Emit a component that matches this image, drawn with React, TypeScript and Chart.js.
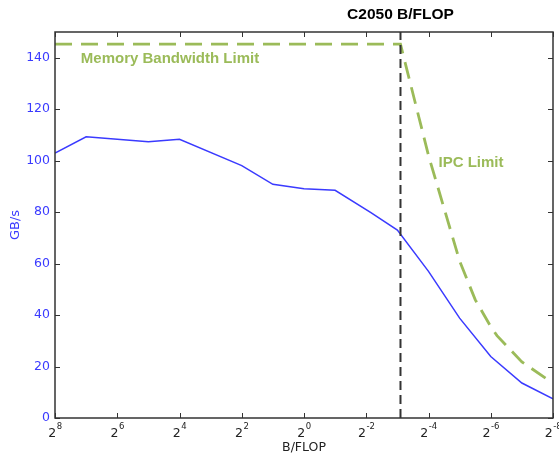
import React, { useEffect, useRef } from "react";
import { Chart, registerables } from "chart.js";

Chart.register(...registerables);

// x values are log2(B/FLOP)
const measuredLog2 = [8, 7, 5, 4, 2, 1, 0, -1, -2.15, -3, -4, -5, -6, -7, -8];
const measuredGBs = [102.9, 109.3, 107.4, 108.3, 98.1, 90.8, 89.1, 88.5, 79.8, 73.0, 57.0, 38.8, 23.9, 13.6, 7.4];
const limitLog2 = [8, -3.1, -4, -5, -5.5, -6, -6.2, -7, -8];
const limitGBs = [145.3, 145.3, 102, 61, 46, 35.5, 32, 21.8, 13.5];
const c2050Log2 = -3.1;
const xTickExps = [8, 6, 4, 2, 0, -2, -4, -6, -8];
const yTickVals = [0, 20, 40, 60, 80, 100, 120, 140];
const yMin = 0;
const yMax = 150;

const BLUE = "#3a3aff";
const GREEN = "#9bbb59";
const AXIS = "#333333";
const FONT = "'DejaVu Sans', sans-serif";
const BOLD = "'Liberation Sans', Arial, sans-serif";

export default function App() {
  const ref = useRef<HTMLCanvasElement | null>(null);

  useEffect(() => {
    if (!ref.current) return;

    const framePlugin = {
      id: "frame",
      afterDatasetsDraw(chart: any) {
        const { ctx, chartArea } = chart;
        const xs = chart.scales.x;
        const ys = chart.scales.y;
        const { left, right, top, bottom } = chartArea;
        ctx.save();
        ctx.strokeStyle = AXIS;
        ctx.lineWidth = 1;
        const tl = 5;
        ctx.beginPath();
        for (const e of xTickExps) {
          const px = Math.round(xs.getPixelForValue(e)) + 0.5;
          ctx.moveTo(px, bottom);
          ctx.lineTo(px, bottom - tl);
          ctx.moveTo(px, top);
          ctx.lineTo(px, top + tl);
        }
        for (const v of yTickVals) {
          const py = Math.round(ys.getPixelForValue(v)) + 0.5;
          ctx.moveTo(left, py);
          ctx.lineTo(left + tl, py);
          ctx.moveTo(right, py);
          ctx.lineTo(right - tl, py);
        }
        ctx.stroke();
        ctx.lineWidth = 1.5;
        ctx.strokeRect(left, top, right - left, bottom - top);

        // x tick labels: 2 with raised exponent
        ctx.fillStyle = "#222222";
        ctx.textBaseline = "alphabetic";
        ctx.textAlign = "left";
        for (const e of xTickExps) {
          const px = xs.getPixelForValue(e);
          const base = "2";
          const exp = String(e);
          ctx.font = "12.5px " + FONT;
          const wb = ctx.measureText(base).width;
          ctx.font = "8.5px " + FONT;
          const we = ctx.measureText(exp).width;
          const x0 = px - (wb + we) / 2;
          ctx.font = "12.5px " + FONT;
          ctx.fillText(base, x0, bottom + 18.5);
          ctx.font = "8.5px " + FONT;
          ctx.fillText(exp, x0 + wb + 0.5, bottom + 10.5);
        }

        // annotations
        ctx.fillStyle = GREEN;
        ctx.font = "bold 15px " + BOLD;
        ctx.textAlign = "left";
        ctx.fillText("Memory Bandwidth Limit", xs.getPixelForValue(7.17), ys.getPixelForValue(137.8));
        ctx.fillText("IPC Limit", xs.getPixelForValue(-4.32), ys.getPixelForValue(97.5));

        ctx.fillStyle = "#000000";
        ctx.font = "bold 15.5px " + BOLD;
        ctx.textAlign = "center";
        ctx.fillText("C2050 B/FLOP", xs.getPixelForValue(c2050Log2), 19);
        ctx.restore();
      },
    };

    const chart = new Chart(ref.current, {
      type: "line",
      data: {
        datasets: [
          {
            label: "C2050",
            data: [
              { x: c2050Log2, y: yMin },
              { x: c2050Log2, y: yMax },
            ],
            borderColor: "#333333",
            borderWidth: 2,
            borderDash: [9, 5],
            pointRadius: 0,
            fill: false,
          },
          {
            label: "Measured",
            data: measuredLog2.map((x, i) => ({ x, y: measuredGBs[i] })),
            borderColor: BLUE,
            borderWidth: 1.5,
            pointRadius: 0,
            fill: false,
            tension: 0,
          },
          {
            label: "Limit",
            data: limitLog2.map((x, i) => ({ x, y: limitGBs[i] })),
            borderColor: GREEN,
            borderWidth: 2.8,
            borderDash: [17, 9],
            pointRadius: 0,
            fill: false,
            tension: 0,
          },
        ],
      },
      options: {
        responsive: false,
        animation: false,
        devicePixelRatio: 1,
        layout: { padding: { left: 0, right: 6, top: 32, bottom: 0 } },
        plugins: {
          legend: { display: false },
          tooltip: { enabled: false },
        },
        scales: {
          x: {
            type: "linear",
            min: -8,
            max: 8,
            reverse: true,
            grid: { display: false, drawTicks: false },
            border: { display: false },
            afterBuildTicks: (scale: any) => {
              scale.ticks = xTickExps.map((v) => ({ value: v }));
            },
            afterFit: (scale: any) => {
              scale.height = 39;
              scale.paddingLeft = 0;
              scale.paddingRight = 0;
            },
            ticks: {
              display: false,
              autoSkip: false,
              maxRotation: 0,
            },
            title: {
              display: true,
              text: "B/FLOP",
              color: "#222222",
              font: { family: FONT, size: 12.5 },
              padding: { top: 0, bottom: 2 },
            },
          },
          y: {
            type: "linear",
            min: yMin,
            max: yMax,
            grid: { display: false, drawTicks: false },
            border: { display: false },
            afterBuildTicks: (scale: any) => {
              scale.ticks = yTickVals.map((v) => ({ value: v }));
            },
            afterFit: (scale: any) => {
              scale.width = 55;
              scale.paddingTop = 0;
              scale.paddingBottom = 0;
            },
            ticks: {
              padding: 5,
              color: BLUE,
              font: { family: FONT, size: 12.5 },
            },
            title: {
              display: true,
              text: "GB/s",
              color: BLUE,
              font: { family: FONT, size: 13 },
              padding: { top: 8, bottom: 0 },
            },
          },
        },
      },
      plugins: [framePlugin],
    } as any);

    return () => chart.destroy();
  }, []);

  return (
    <div style={{ position: "absolute", left: 0, top: 0, width: 559, height: 457, background: "#ffffff" }}>
      <canvas ref={ref} width={559} height={457} style={{ display: "block", width: 559, height: 457 }} />
    </div>
  );
}
